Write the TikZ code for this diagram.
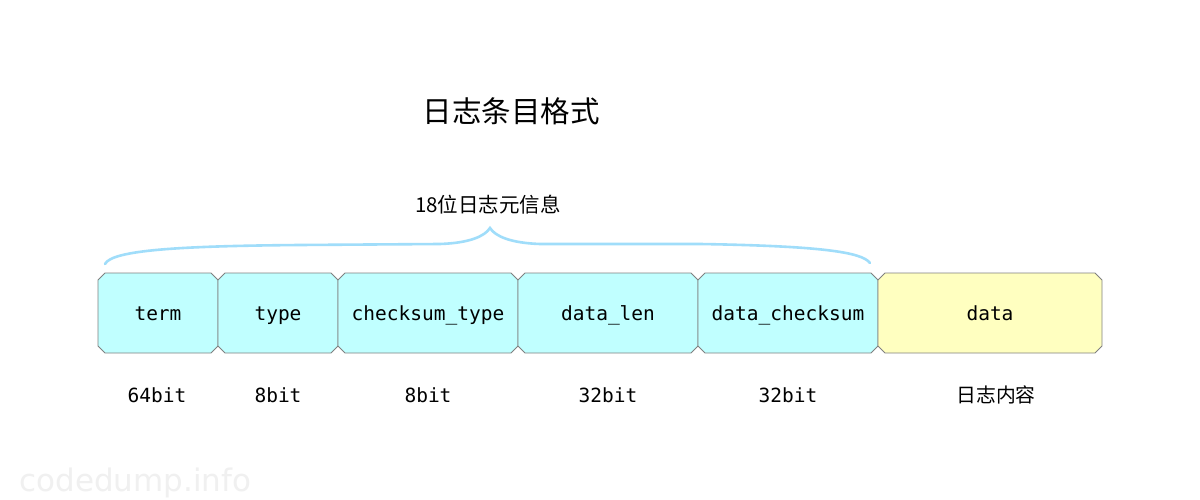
\documentclass[tikz,border=0pt]{standalone}
\usepackage{fontspec}
\newfontfamily\cjk{Noto Sans CJK SC}
\newfontfamily\mono{DejaVu Sans Mono}
\newfontfamily\wm{DejaVu Sans}
\usetikzlibrary{shapes.misc}
\definecolor{cyanfill}{HTML}{C0FFFF}
\definecolor{yellowfill}{HTML}{FFFFC0}
\definecolor{boxline}{HTML}{808080}
\definecolor{bracecol}{HTML}{A0DDFA}
\tikzset{
  field/.style={chamfered rectangle, chamfered rectangle xsep=3.5pt, chamfered rectangle ysep=3.5pt,
    draw=boxline, line width=0.8pt, minimum height=80pt, inner sep=0pt, outer sep=0pt,
    text height=16pt, text depth=1pt,
    font=\mono\fontsize{19.5}{21}\selectfont},
  metafield/.style={field, fill=cyanfill},
  datafield/.style={field, fill=yellowfill},
  bits/.style={font=\mono\fontsize{19.5}{21}\selectfont, text height=16pt, text depth=1pt},
  cjklabel/.style={font=\cjk\fontsize{19.8}{21}\selectfont}
}
\begin{document}
\begin{tikzpicture}[x=1pt,y=-1pt]
\useasboundingbox[fill=white] (0,0) rectangle (1200,500);
\node[metafield, minimum width=120pt] (term) at (158,313) {term};
\node[metafield, minimum width=120pt] (type) at (278,313) {type};
\node[metafield, minimum width=180pt] (cst) at (428,313) {checksum\_type};
\node[metafield, minimum width=180pt] (dlen) at (608,313) {data\_len};
\node[metafield, minimum width=180pt] (dcs) at (788,313) {data\_checksum};
\node[datafield, minimum width=224pt] (data) at (990,313) {data};

\node[bits] (b1) at (157,395) {64bit};
\node[bits] (b2) at (278,395) {8bit};
\node[bits] (b3) at (428,395) {8bit};
\node[bits] (b4) at (608,395) {32bit};
\node[bits] (b5) at (788,395) {32bit};
\node[cjklabel] (b6) at (996,395) {日志内容};

\node[font=\cjk\fontsize{29.5}{31}\selectfont] (title) at (511,111) {日志条目格式};
\node[font=\cjk\fontsize{20.5}{22}\selectfont] (meta) at (488,205) {18位日志元信息};

\coordinate (bl) at (105,264);
\coordinate (bp) at (490,228);
\coordinate (br) at (870,263);
\draw[bracecol, line width=2.6pt, line cap=round]
  (bl) .. controls (112,250) and (180,246) .. (300,245) -- (440,244)
  .. controls (470,243) and (485,236) .. (bp)
  .. controls (495,236) and (510,243) .. (540,244) -- (700,244)
  .. controls (820,246) and (862,252) .. (br);

\node[font=\wm\fontsize{31}{32}\selectfont, text=black!6, anchor=west] (wmark) at (16,483) {codedump.info};
\end{tikzpicture}
\end{document}
